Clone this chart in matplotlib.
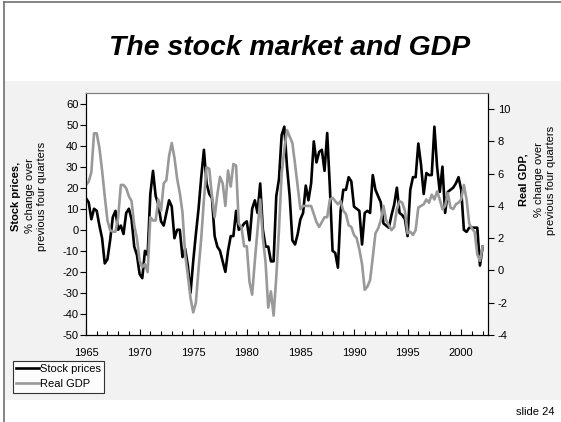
import matplotlib
matplotlib.use("Agg")

import matplotlib.pyplot as plt
import numpy as np
from matplotlib.lines import Line2D
from matplotlib.patches import Rectangle

plt.rcParams["font.family"] = ["Liberation Sans", "DejaVu Sans"]
plt.rcParams["axes.unicode_minus"] = False

# quarterly data, 1965Q1 onwards (% change over previous four quarters)
start_year = 1965
stock_prices = [
    15, 13, 5, 10, 9, 2, -4, -16, -14, -5,
    6, 9, 0, 2, -2, 8, 10, 5, -8, -12,
    -21, -23, -10, -12, 17, 28, 16, 12, 4, 2,
    8, 14, 11, -4, 0, 0, -13, -9, -17, -30,
    -15, -2, 10, 25, 38, 22, 17, 15, -3, -8,
    -10, -15, -20, -10, -3, -3, 9, 0, 1, 3,
    4, -5, 10, 14, 8, 22, 0, -8, -8, -15,
    -15, 16, 24, 45, 49, 30, 16, -5, -7, -2,
    5, 8, 21, 14, 22, 42, 32, 37, 38, 28,
    46, 20, -10, -11, -18, 9, 19, 19, 25, 23,
    11, 10, 9, -7, 8, 9, 8, 26, 19, 16,
    13, 3, 2, 1, 7, 12, 20, 8, 7, 5,
    -3, 19, 25, 25, 41, 31, 17, 27, 26, 26,
    49, 30, 18, 30, 8, 18, 19, 20, 22, 25,
    19, 0, -1, 1, 1, 1, 1, -17, -8,
]
real_gdp = [
    5.3, 5.5, 6.1, 8.5, 8.5, 7.6, 6.2, 4.6, 3.1, 2.5,
    2.4, 2.4, 3.3, 5.3, 5.3, 5.1, 4.6, 4.3, 2.8, 2.0,
    0.6, 0.2, 0.4, -0.1, 3.3, 3.1, 3.1, 4.4, 3.7, 5.4,
    5.6, 7.1, 7.9, 7.0, 5.7, 4.8, 3.6, 1.0, -0.3, -1.7,
    -2.6, -2.0, 0.1, 2.0, 4.4, 6.4, 6.3, 4.6, 3.3, 4.7,
    5.8, 5.4, 4.0, 6.2, 5.2, 6.6, 6.5, 2.9, 2.7, 1.5,
    1.5, -0.7, -1.5, 0.6, 2.5, 4.4, 2.0, 0.5, -2.3, -1.3,
    -2.8, -0.4, 2.5, 6.0, 7.5, 8.7, 8.3, 7.9, 6.6, 5.2,
    3.8, 4.0, 4.0, 4.0, 4.0, 3.5, 3.0, 2.7, 3.0, 3.3,
    3.3, 4.4, 4.5, 4.3, 4.1, 4.3, 3.7, 3.5, 2.8, 2.7,
    2.2, 2.0, 1.3, 0.4, -1.2, -1.0, -0.6, 0.8, 2.3, 2.6,
    3.1, 4.0, 3.1, 2.8, 2.5, 2.7, 3.8, 4.3, 4.2, 3.7,
    2.3, 2.4, 2.2, 2.5, 3.9, 4.0, 4.1, 4.4, 4.2, 4.7,
    4.4, 4.9, 4.4, 3.8, 4.0, 4.8, 3.9, 3.8, 4.1, 4.2,
    4.4, 5.3, 4.4, 2.9, 2.6, 2.4, 1.0, 0.6, 1.5,
]
year_labels = [1965, 1970, 1975, 1980, 1985, 1990, 1995, 2000]

t_stock = start_year + np.arange(len(stock_prices)) / 4
t_gdp = start_year + np.arange(len(real_gdp)) / 4

W, H = 561, 422
fig = plt.figure(figsize=(W / 100, H / 100), dpi=100)

# slide background band and frame
fig.add_artist(Rectangle((4 / W, 1 - 400 / H), 1, 319 / H, transform=fig.transFigure,
                         facecolor="#f2f2f2", edgecolor="none", zorder=0))
fig.add_artist(Line2D([3.5 / W, 3.5 / W], [0, 1 - 1.5 / H], transform=fig.transFigure,
                      color="#707070", lw=1.2))
fig.add_artist(Line2D([3.5 / W, 1], [1 - 1.5 / H, 1 - 1.5 / H], transform=fig.transFigure,
                      color="#707070", lw=1.2))

fig.text(290 / W, 1 - 48 / H, "The stock market and GDP", ha="center", va="center",
         fontsize=20.4, fontweight="bold", fontstyle="italic")

ax = fig.add_axes([86 / W, 1 - 335 / H, 402 / W, 242 / H])
ax.set_facecolor("white")
ax2 = ax.twinx()

l1, = ax.plot(t_stock, stock_prices, color="black", lw=1.9, label="Stock prices")
l2, = ax2.plot(t_gdp, real_gdp, color="#999999", lw=1.9, label="Real GDP")

ax.set_xlim(1965, 2002.5)
ax.set_ylim(-50, 65)
ax2.set_ylim(-4, 11)
ax.set_yticks(range(-50, 61, 10))
ax2.set_yticks(range(-4, 11, 2))
ax.set_xticks(year_labels)
ax.set_xticks(range(1965, 2003), minor=True)

ax.tick_params(axis="x", which="major", direction="in", length=4, width=0.8, pad=9, labelsize=8)
ax.tick_params(axis="x", which="minor", direction="in", length=3, width=0.8)
ax.tick_params(axis="y", direction="out", length=4, width=0.8, pad=1.5, labelsize=8)
ax2.tick_params(axis="y", direction="out", length=4, width=0.8, pad=3, labelsize=8)

for a in (ax, ax2):
    for s in ("left", "bottom", "right"):
        a.spines[s].set_color("black")
        a.spines[s].set_linewidth(0.8)
    a.spines["top"].set_color("#808080")
    a.spines["top"].set_linewidth(0.8)

# axis titles
for x, txt, bold in [(16, "Stock prices,", True), (30, "% change over", False),
                     (42, "previous four quarters", False)]:
    fig.text(x / W, 1 - 196 / H, txt, rotation=90, ha="center", va="center",
             fontsize=8, fontweight="bold" if bold else "normal")
for x, txt, bold in [(524, "Real GDP,", True), (539, "% change over", False),
                     (551, "previous four quarters", False)]:
    fig.text(x / W, 1 - 180 / H, txt, rotation=90, ha="center", va="center",
             fontsize=8, fontweight="bold" if bold else "normal")

leg = fig.legend([l1, l2], ["Stock prices", "Real GDP"], loc="upper left",
                 bbox_to_anchor=(13 / W, 1 - 361 / H), fontsize=8, frameon=True,
                 fancybox=False, handlelength=2.0, handletextpad=0.1,
                 borderpad=0.3, labelspacing=0.45, borderaxespad=0)
leg.get_frame().set_edgecolor("black")
leg.get_frame().set_linewidth(0.8)
leg.get_frame().set_facecolor("white")

fig.text(555 / W, 1 - 412 / H, "slide 24", ha="right", va="center", fontsize=8)

fig.savefig("out.png", dpi=100)
